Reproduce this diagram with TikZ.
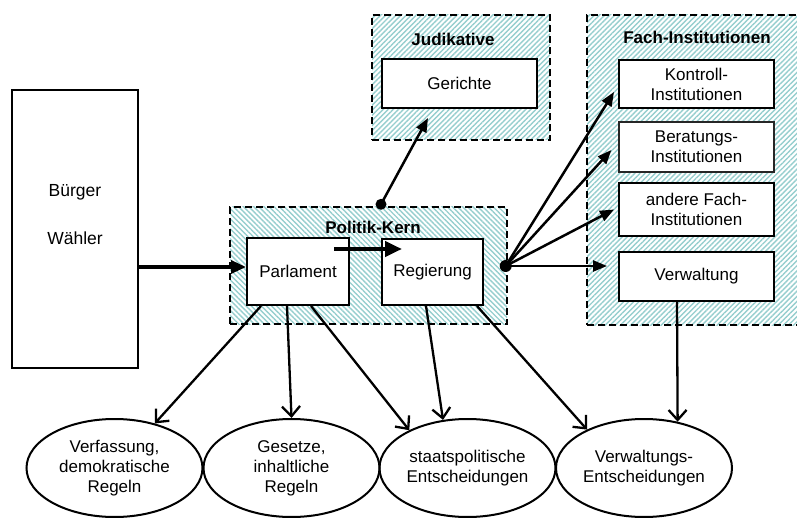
\documentclass[tikz,border=0pt]{standalone}
\usepackage{fontspec}
\setmainfont{Liberation Sans}
\usetikzlibrary{arrows.meta,patterns.meta,calc,shapes.geometric}
\definecolor{hatch}{RGB}{150,206,206}
\begin{document}
\begin{tikzpicture}[x=1pt,y=-1pt,
  every node/.style={font=\fontsize{17}{20}\selectfont},
  box/.style={draw, line width=2pt, fill=white, inner sep=0pt, align=center},
  thinbox/.style={box, line width=1.2pt, draw=black!85},
  group/.style={draw, dash pattern=on 7pt off 4pt, line width=1.8pt, inner sep=0pt,
    pattern={Lines[angle=#1,distance=3.6pt,line width=1.4pt]}, pattern color=hatch},
  title/.style={font=\fontsize{17}{20}\selectfont\bfseries, inner sep=0pt},
  result/.style={ellipse, draw, line width=2pt, minimum width=176pt, minimum height=98pt,
    inner sep=0pt, align=center},
  fillarrow/.style={-{Triangle[length=14pt,width=11pt]}, line width=2.5pt},
  barbarrow/.style={-{Straight Barb[length=10pt,width=18pt]}, line width=2.3pt},
]
\useasboundingbox (0,0) rectangle (797,518);

% groups (hatched, dashed frames)
\node[group=-45, minimum width=277pt, minimum height=117pt] (kern) at (368.5,265.5) {};
\node[group=45, minimum width=178pt, minimum height=125pt] (jud) at (461,77.5) {};
\node[group=45, minimum width=230pt, minimum height=310pt] (fach) at (702,170) {};

\node[title] (kernT) at (373,227) {Politik-Kern};
\node[title] (judT) at (453,39) {Judikative};
\node[title] (fachT) at (697,37) {Fach-Institutionen};

% citizens
\node[box, minimum width=126pt, minimum height=278pt] (buerger) at (75,229) {};
\node[font=\fontsize{17.5}{20}\selectfont] (buergerT) at (75,192) {Bürger};
\node[font=\fontsize{17.5}{20}\selectfont] (waehlerT) at (75,238) {Wähler};

% political core
\node[box, minimum width=102pt, minimum height=67pt] (parlament) at (298,271.5) {Parlament};
\node[box, minimum width=101pt, minimum height=66pt] (regierung) at (432.5,272) {Regierung};

% judiciary
\node[box, minimum width=155pt, minimum height=49pt] (gerichte) at (459.5,83.5) {Gerichte};

% specialised institutions
\node[box, minimum width=155pt, minimum height=48pt] (kontroll) at (696.5,84) {Kontroll-\\Institutionen};
\node[thinbox, minimum width=155pt, minimum height=50pt] (beratung) at (696.5,147) {Beratungs-\\Institutionen};
\node[box, minimum width=155pt, minimum height=53pt] (andere) at (696.5,209.5) {andere Fach-\\Institutionen};
\node[box, minimum width=155pt, minimum height=49pt] (verwaltung) at (696.5,276.5) {Verwaltung};

% outcomes
\node[result] (verf) at (114.5,468) {Verfassung,\\demokratische\\Regeln};
\node[result] (gesetze) at (291.5,468) {Gesetze,\\inhaltliche\\Regeln};
\node[result] (staat) at (467.5,468) {staatspolitische\\Entscheidungen};
\node[result] (verwE) at (644,468) {Verwaltungs-\\Entscheidungen};

% junction points
\coordinate (dotJ) at ($(kern.north)+(12.5,-2)$);
\coordinate (hub) at ($(kern.east)+(-2,0.5)$);
\coordinate (pin) at ($(parlament.west)+(0,-4.5)$);
\coordinate (jTip) at ($(gerichte.south)+(-31.5,9)$);

% citizens elect parliament
\draw[-{Triangle[length=15pt,width=13pt]}, line width=3.2pt] (buerger.east |- pin) -- (pin);
% parliament to government
\draw[-{Triangle[length=17pt,width=15pt]}, line width=4.4pt]
  ($(parlament.north east)+(-16,12)$) -- ($(regierung.north west)+(21,11)$);

% to the judiciary
\draw[fillarrow] (dotJ) -- (jTip);
\fill (dotJ) circle (5.5);

% to the institutions
\draw[fillarrow] (hub) -- ($(kontroll.west)+(-4,8)$);
\draw[fillarrow] (hub) -- ($(beratung.west)+(-7,3)$);
\draw[fillarrow] (hub) -- ($(andere.west)+(-4,0)$);
\draw[fillarrow] (hub) -- (hub -| {$(verwaltung.west)+(-11,0)$});
\fill (hub) circle (6);

% decisions
\draw[barbarrow] ($(parlament.south west)+(15,0)$) -- (verf);
\draw[barbarrow] ($(parlament.south west)+(41,0)$) -- (gesetze.north);
\draw[barbarrow] ($(parlament.south west)+(65,0)$) -- (staat.147);
\draw[barbarrow] ($(regierung.south west)+(45,0)$) -- (staat.117);
\draw[barbarrow] ($(regierung.south west)+(96,0)$) -- (verwE.146);
\draw[barbarrow] ($(verwaltung.south)+(-19.5,0)$) -- (verwE.54);
\end{tikzpicture}
\end{document}
